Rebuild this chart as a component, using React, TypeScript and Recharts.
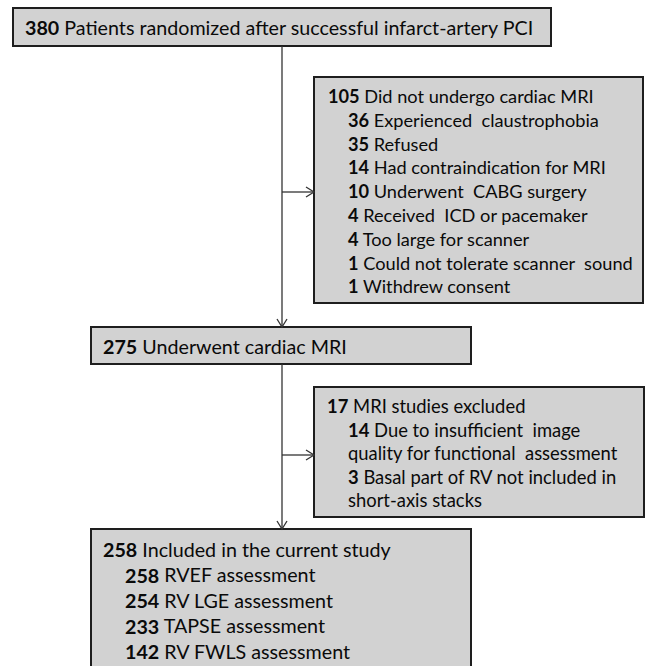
import React from 'react';
import { ComposedChart, XAxis, YAxis, ReferenceArea, ReferenceLine } from 'recharts';

// Flow counts and labels
const stepCounts = [380, 275, 258];
const stepLabels = [
  'Patients randomized after successful infarct-artery PCI',
  'Underwent cardiac MRI',
  'Included in the current study',
];

const noMriTotal = 105;
const noMriTitle = 'Did not undergo cardiac MRI';
const noMriCounts = [36, 35, 14, 10, 4, 4, 1, 1];
const noMriReasons = [
  'Experienced  claustrophobia',
  'Refused',
  'Had contraindication for MRI',
  'Underwent  CABG surgery',
  'Received  ICD or pacemaker',
  'Too large for scanner',
  'Could not tolerate scanner  sound',
  'Withdrew consent',
];

const excludedTotal = 17;
const excludedTitle = 'MRI studies excluded';
const excludedCounts = [14, 3];
const excludedReasons = [
  ['Due to insufficient  image', 'quality for functional  assessment'],
  ['Basal part of RV not included in', 'short-axis stacks'],
];

const assessmentCounts = [258, 254, 233, 142];
const assessmentLabels = ['RVEF assessment', 'RV LGE assessment', 'TAPSE assessment', 'RV FWLS assessment'];

// Layout (pixel domain)
const W = 648;
const H = 666;
const FONT = 'Lato, "Open Sans", sans-serif';
const FILL = '#d2d2d2';
const BORDER = '#1e1e1e';
const LINE = '#333333';

type Line = { count?: number; text: string; indent: number };

const box1 = { x1: 13, x2: 551, y1: 8, y2: 46 };
const box2 = { x1: 314, x2: 643, y1: 77, y2: 303 };
const box3 = { x1: 91, x2: 471, y1: 327, y2: 364 };
const box4 = { x1: 314, x2: 644, y1: 387, y2: 517 };
const box5 = { x1: 91, x2: 471, y1: 529, y2: 700 };
const trunkX = 282;

function textBlock(lines: Line[], padX: number, firstY: number, step: number, size: number) {
  return (props: any) => {
    const vb = props.viewBox || {};
    return (
      <g>
        {lines.map((l, i) => (
          <text
            key={i}
            x={vb.x + padX + l.indent}
            y={vb.y + firstY + i * step}
            dominantBaseline="central"
            fontFamily={FONT}
            fontSize={size}
            fill="#0a0a0a"
            style={{ whiteSpace: 'pre' }}
          >
            {l.count !== undefined && <tspan fontWeight="bold">{l.count}</tspan>}
            {l.count !== undefined ? ' ' + l.text : l.text}
          </text>
        ))}
      </g>
    );
  };
}

function Arrow(props: any) {
  const { x1, y1, x2, y2 } = props;
  const dx = x2 - x1;
  const dy = y2 - y1;
  const len = Math.sqrt(dx * dx + dy * dy) || 1;
  const ux = dx / len;
  const uy = dy / len;
  const h = 8;
  const w = 5;
  const bx = x2 - ux * h;
  const by = y2 - uy * h;
  return (
    <g>
      <line x1={x1} y1={y1} x2={x2} y2={y2} stroke={LINE} strokeWidth={1.3} />
      <polyline
        points={`${bx - uy * w},${by + ux * w} ${x2},${y2} ${bx + uy * w},${by - ux * w}`}
        fill="none"
        stroke={LINE}
        strokeWidth={1.3}
      />
    </g>
  );
}

const box1Lines: Line[] = [{ count: stepCounts[0], text: stepLabels[0], indent: 0 }];
const box2Lines: Line[] = [
  { count: noMriTotal, text: noMriTitle, indent: 0 },
  ...noMriCounts.map((c, i) => ({ count: c, text: noMriReasons[i], indent: 20 })),
];
const box3Lines: Line[] = [{ count: stepCounts[1], text: stepLabels[1], indent: 0 }];
const box4Lines: Line[] = [{ count: excludedTotal, text: excludedTitle, indent: 0 }];
excludedCounts.forEach((c, i) => {
  excludedReasons[i].forEach((t, j) => {
    box4Lines.push({ count: j === 0 ? c : undefined, text: t, indent: 21 });
  });
});
const box5Lines: Line[] = [
  { count: stepCounts[2], text: stepLabels[2], indent: 0 },
  ...assessmentCounts.map((c, i) => ({ count: c, text: assessmentLabels[i], indent: 22 })),
];

export default function App() {
  const area = (b: typeof box1, label: any) => (
    <ReferenceArea
      x1={b.x1}
      x2={b.x2}
      y1={b.y1}
      y2={b.y2}
      fill={FILL}
      fillOpacity={1}
      stroke={BORDER}
      strokeWidth={2}
      ifOverflow="visible"
      label={label}
    />
  );
  return (
    <div style={{ position: 'fixed', left: 0, top: 0, width: W, height: H, background: '#fff' }}>
      <ComposedChart width={W} height={H} data={[]} margin={{ top: 0, right: 0, bottom: 0, left: 0 }}>
        <XAxis type="number" dataKey="x" domain={[0, W]} hide allowDataOverflow />
        <YAxis type="number" dataKey="y" domain={[0, H]} reversed hide allowDataOverflow />
        <ReferenceLine segment={[{ x: trunkX, y: box1.y2 }, { x: trunkX, y: box3.y1 }]} shape={<Arrow />} ifOverflow="visible" />
        <ReferenceLine segment={[{ x: trunkX, y: 192 }, { x: box2.x1, y: 192 }]} shape={<Arrow />} ifOverflow="visible" />
        <ReferenceLine segment={[{ x: trunkX, y: box3.y2 }, { x: trunkX, y: box5.y1 }]} shape={<Arrow />} ifOverflow="visible" />
        <ReferenceLine segment={[{ x: trunkX, y: 455 }, { x: box4.x1, y: 455 }]} shape={<Arrow />} ifOverflow="visible" />
        {area(box1, textBlock(box1Lines, 12, 19, 0, 19.7))}
        {area(box2, textBlock(box2Lines, 14, 19, 23.8, 18.2))}
        {area(box3, textBlock(box3Lines, 12, 19, 0, 19.7))}
        {area(box4, textBlock(box4Lines, 13, 19, 23.5, 18.4))}
        {area(box5, textBlock(box5Lines, 12, 20, 25.5, 19.7))}
      </ComposedChart>
    </div>
  );
}
